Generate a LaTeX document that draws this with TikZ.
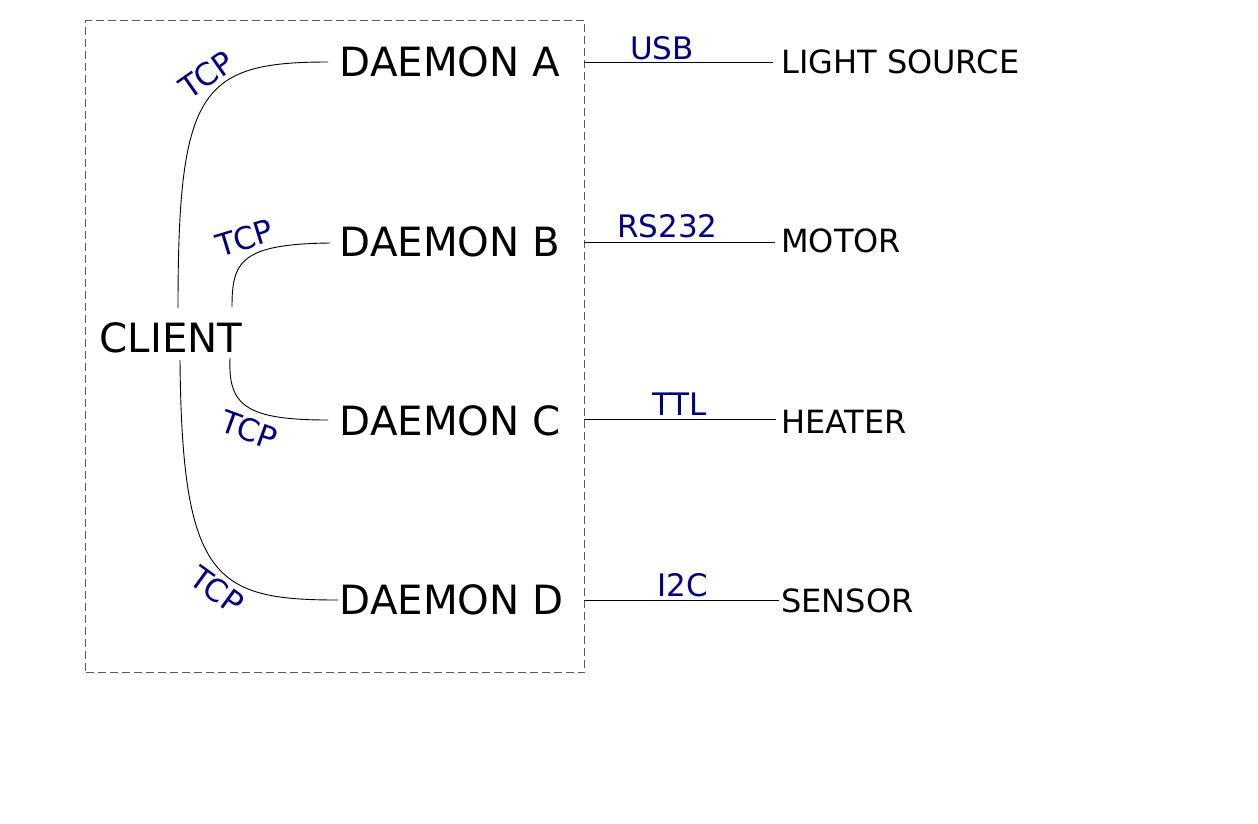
\documentclass[tikz,border=0pt]{standalone}
\usepackage{fontspec}
\setmainfont{DejaVu Sans}
\usetikzlibrary{calc}
\definecolor{lbl}{HTML}{000080}
\definecolor{boxgray}{HTML}{5A5A5A}
\tikzset{
  bigtext/.style={inner sep=0pt, anchor=base west, font=\fontsize{40.3}{48}\selectfont},
  devtext/.style={inner sep=0pt, anchor=base west, font=\fontsize{32}{38}\selectfont},
  proto/.style={inner sep=0pt, anchor=base, text=lbl, font=\fontsize{31}{37}\selectfont},
  tcplbl/.style={inner sep=0pt, anchor=center, text=lbl, font=\fontsize{31}{37}\selectfont},
  wire/.style={draw=black, line width=0.9pt},
  frame/.style={draw=boxgray, line width=1.1pt, dash pattern=on 8pt off 4pt}
}
\begin{document}
\begin{tikzpicture}[x=1pt,y=-1pt]
\useasboundingbox (0,0) rectangle (1258,823);
% frame
\node[frame, inner sep=0pt, minimum width=499pt, minimum height=652pt, anchor=north west] (box) at (85,20) {};
% texts
\node[bigtext] (client) at (99.5,352) {CLIENT};
\node[bigtext] (da) at (339.5,76) {DAEMON A};
\node[bigtext] (db) at (339.5,256) {DAEMON B};
\node[bigtext] (dc) at (339.5,435) {DAEMON C};
\node[bigtext] (dd) at (339.5,614) {DAEMON D};
\node[devtext] (ls) at (781,73) {LIGHT SOURCE};
\node[devtext] (mo) at (781,252) {MOTOR};
\node[devtext] (he) at (781,433) {HEATER};
\node[devtext] (se) at (781,612) {SENSOR};
% connector end points
\coordinate (cA) at (178,308);
\coordinate (cB) at (232,307);
\coordinate (cC) at (230,358);
\coordinate (cD) at (180,360);
\coordinate (eA) at (328,62);
\coordinate (eB) at (330,243);
\coordinate (eC) at (328,420);
\coordinate (eD) at (338,600);
\coordinate (oA) at (584,62);
\coordinate (oB) at (584,242);
\coordinate (oC) at (584,419);
\coordinate (oD) at (584,600);
\coordinate (tA) at (773,62);
\coordinate (tB) at (775,242);
\coordinate (tC) at (776,419);
\coordinate (tD) at (779,600);
% curves client -> daemons
\draw[wire] (cA) .. controls (178,90) and (200,62) .. (eA);
\draw[wire] (cB) .. controls (232,262) and (240,244) .. (eB);
\draw[wire] (cC) .. controls (228,405) and (245,420) .. (eC);
\draw[wire] (cD) .. controls (182,580) and (215,600) .. (eD);
% daemon -> device
\draw[wire] (oA) -- (tA);
\draw[wire] (oB) -- (tB);
\draw[wire] (oC) -- (tC);
\draw[wire] (oD) -- (tD);
% labels
\node[tcplbl, rotate=35] (tcpA) at (207,75) {TCP};
\node[tcplbl, rotate=17] (tcpB) at (245,238) {TCP};
\node[tcplbl, rotate=-20] (tcpC) at (249,430) {TCP};
\node[tcplbl, rotate=-36] (tcpD) at (217,590) {TCP};
\node[proto] (usb) at (662,59) {USB};
\node[proto] (rs) at (667.5,237) {RS232};
\node[proto] (ttl) at (679.5,415) {TTL};
\node[proto] (i2c) at (682.5,596) {I2C};
\end{tikzpicture}
\end{document}
